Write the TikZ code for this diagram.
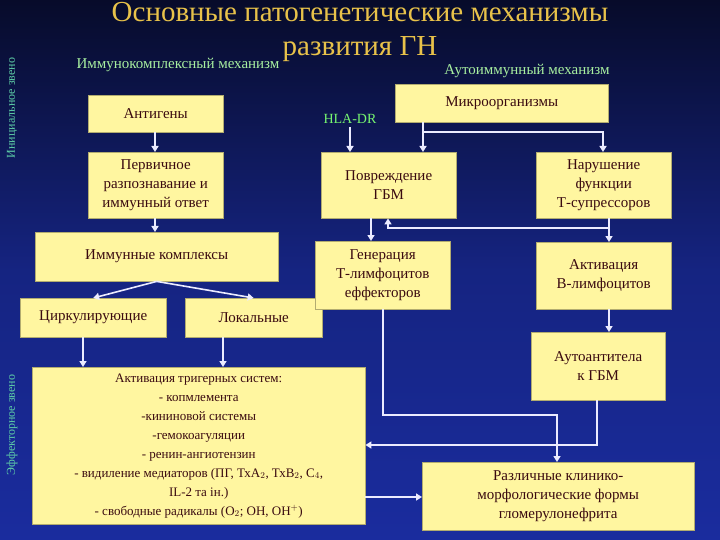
\documentclass[tikz,border=0pt]{standalone}
\usepackage{fontspec}
\setmainfont{Liberation Serif}
\usetikzlibrary{arrows.meta}
\definecolor{bgtop}{HTML}{070B2A}
\definecolor{bgbot}{HTML}{1A2C9E}
\definecolor{boxfill}{HTML}{FFF6A0}
\definecolor{boxtext}{HTML}{3A0A10}
\definecolor{ttl}{HTML}{E8C24A}
\definecolor{grn}{HTML}{A8F0A0}
\definecolor{side}{HTML}{5FD0A8}
\tikzset{
  bx/.style={draw=boxfill!70!black,fill=boxfill,text=boxtext,align=center,inner sep=1pt,font=\fontsize{15}{19}\selectfont,anchor=north west},
  ar/.style={draw=white!92!blue,line width=1.6pt,-{Triangle[width=7pt,length=6pt]}},
}
\begin{document}
\begin{tikzpicture}[x=1pt,y=-1pt]
\useasboundingbox (0,0) rectangle (720,540);
\shade[top color=bgtop,bottom color=bgbot,middle color=bgbot!75!bgtop] (0,0) rectangle (720,540);
\node[text=ttl,font=\fontsize{29}{34}\selectfont,align=center] (title) at (360,32) {Основные патогенетические механизмы\\развития ГН};
\node[text=grn,font=\fontsize{15}{18}\selectfont] (lim) at (178,65) {Иммунокомплексный механизм};
\node[text=grn,font=\fontsize{15}{18}\selectfont] (lau) at (527,71) {Аутоиммунный механизм};
\node[text=side,font=\fontsize{12}{14}\selectfont,rotate=90] (s1) at (12,108) {Инициальное звено};
\node[text=side,font=\fontsize{12}{14}\selectfont,rotate=90] (s2) at (12,425) {Эффекторное звено};
\node[text=grn!70!green,font=\fontsize{14}{16}\selectfont] (hla) at (350,119) {HLA-DR};

\node[bx,minimum width=135,minimum height=37] (ag) at (88,95) {Антигены};
\node[bx,minimum width=135,minimum height=66] (pr) at (88,152) {Первичное\\разпознавание и\\иммунный ответ};
\node[bx,minimum width=243,minimum height=49] (ic) at (35,232) {Иммунные комплексы};
\node[bx,minimum width=146,minimum height=39] (ci) at (20,298) {Циркулирующие};
\node[bx,minimum width=137,minimum height=39] (lo) at (185,298) {Локальные};
\node[bx,minimum width=333,minimum height=157,font=\fontsize{13}{19}\selectfont] (act) at (32,367) {Активация тригерных систем:\\- копмлемента\\-кининовой системы\\-гемокоагуляции\\- ренин-ангиотензин\\- видиление медиаторов (ПГ, ТхА$_2$, ТхВ$_2$, С$_4$,\\IL-2 та ін.)\\- свободные радикалы (О$_2$; ОН, ОН$^+$)};
\node[bx,minimum width=213,minimum height=38] (mi) at (395,84) {Микроорганизмы};
\node[bx,minimum width=135,minimum height=66] (dm) at (321,152) {Повреждение\\ГБМ};
\node[bx,minimum width=135,minimum height=66] (vi) at (536,152) {Нарушение\\функции\\Т-супрессоров};
\node[bx,minimum width=135,minimum height=68] (ge) at (315,241) {Генерация\\Т-лимфоцитов\\еффекторов};
\node[bx,minimum width=135,minimum height=67] (ba) at (536,242) {Активация\\В-лимфоцитов};
\node[bx,minimum width=134,minimum height=68] (au) at (531,332) {Аутоантитела\\к ГБМ};
\node[bx,minimum width=272,minimum height=68] (cl) at (422,462) {Различные клинико-\\морфологические формы\\гломерулонефрита};

\draw[ar] (ag.south -| 155,0) -- (pr.north -| 155,0);
\draw[ar] (pr.south -| 155,0) -- (ic.north -| 155,0);
\draw[ar] (ic.south) -- (ci.north);
\draw[ar] (ic.south) -- (lo.north);
\draw[ar] (ci.south -| 83,0) -- (act.north -| 83,0);
\draw[ar] (lo.south -| 223,0) -- (act.north -| 223,0);
\draw[ar] (hla.south) -- (hla.south |- dm.north);
\coordinate (m1) at (423,132);
\coordinate (m2) at (603,132);
\draw[ar] (mi.south -| m1) -- (dm.north -| m1);
\draw[ar] (m1) -- (m2) -- (vi.north -| m2);
\draw[ar] (dm.south -| 371,0) -- (ge.north -| 371,0);
\draw[ar] (vi.south -| 609,0) -- (ba.north -| 609,0);
\coordinate (v1) at (609,228);
\coordinate (v2) at (388,228);
\draw[ar] (v1) -- (v2) -- (dm.south -| v2);
\draw[ar] (ba.south -| 609,0) -- (au.north -| 609,0);
\coordinate (g1) at (383,415);
\coordinate (g2) at (557,415);
\draw[ar] (ge.south -| g1) -- (g1) -- (g2) -- (cl.north -| g2);
\coordinate (a1) at (597,445);
\draw[ar] (au.south -| a1) -- (a1) -- (act.east |- a1);
\draw[ar] (act.east |- 0,497) -- (cl.west |- 0,497);
\end{tikzpicture}
\end{document}
